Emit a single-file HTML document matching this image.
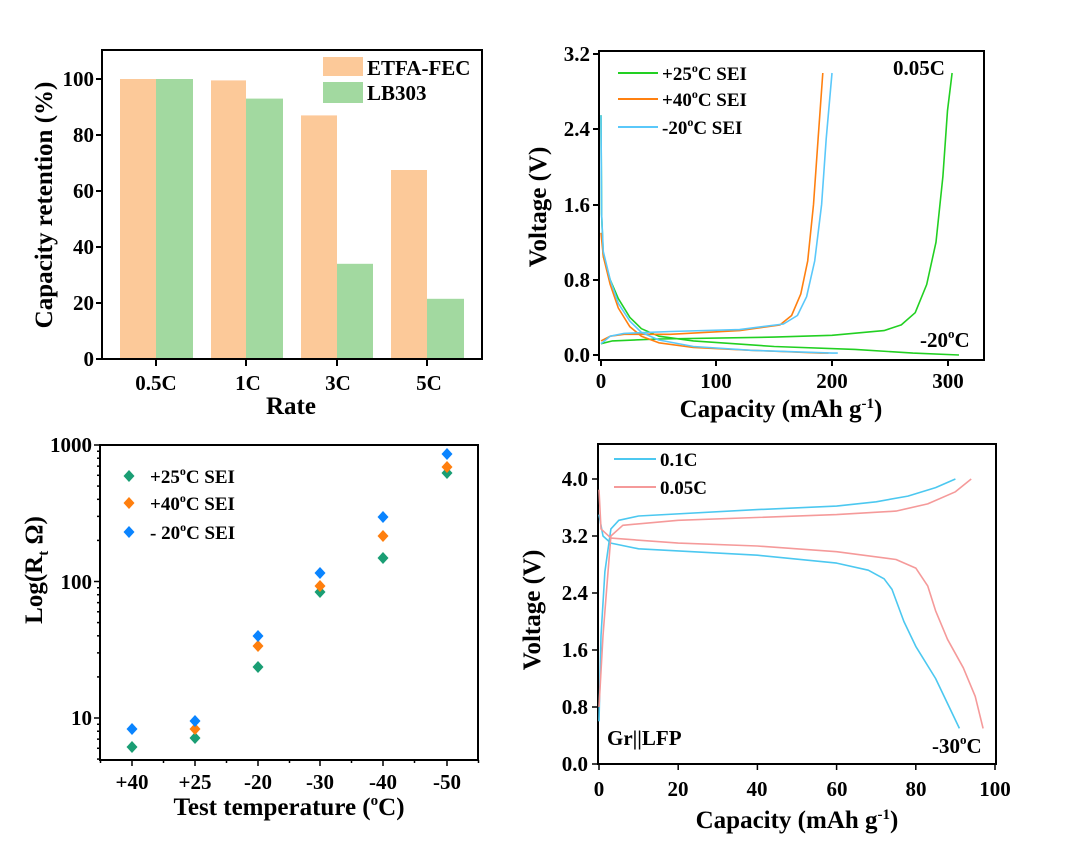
<!DOCTYPE html>
<html><head><meta charset="utf-8"><style>
body{margin:0;background:#fff;}
svg{display:block;font-family:"Liberation Serif",serif;font-weight:bold;}
</style></head><body>
<svg id="s" width="1080" height="841" viewBox="0 0 1080 841" xmlns="http://www.w3.org/2000/svg">
<rect width="1080" height="841" fill="#fff"/>
<!-- Panel A -->
<g>
<rect x="120" y="79" width="36" height="280" fill="#FCC999"/>
<rect x="156" y="79" width="37" height="280" fill="#A2D9A0"/>
<rect x="211" y="80.4" width="35" height="278.6" fill="#FCC999"/>
<rect x="246" y="98.6" width="37" height="260.4" fill="#A2D9A0"/>
<rect x="301" y="115.4" width="36" height="243.6" fill="#FCC999"/>
<rect x="337" y="263.8" width="36" height="95.2" fill="#A2D9A0"/>
<rect x="391" y="170" width="36" height="189" fill="#FCC999"/>
<rect x="427" y="298.8" width="37" height="60.2" fill="#A2D9A0"/>
<rect x="102" y="50" width="380" height="309" fill="none" stroke="#000" stroke-width="2"/>
<rect x="323" y="57" width="40" height="19" fill="#FCC999"/>
<rect x="323" y="82" width="40" height="21" fill="#A2D9A0"/>
<text x="367" y="75" font-size="21">ETFA-FEC</text>
<text x="367" y="100" font-size="21">LB303</text>
<g font-size="21" text-anchor="end">
<text x="94" y="366">0</text><text x="94" y="310">20</text><text x="94" y="254">40</text>
<text x="94" y="198">60</text><text x="94" y="142">80</text><text x="94" y="86">100</text>
</g>
<g stroke="#000" stroke-width="2">
<line x1="96" y1="359" x2="102" y2="359"/><line x1="96" y1="303" x2="102" y2="303"/><line x1="96" y1="247" x2="102" y2="247"/>
<line x1="96" y1="191" x2="102" y2="191"/><line x1="96" y1="135" x2="102" y2="135"/><line x1="96" y1="79" x2="102" y2="79"/>
<line x1="156" y1="359" x2="156" y2="366"/><line x1="246" y1="359" x2="246" y2="366"/><line x1="337" y1="359" x2="337" y2="366"/><line x1="427" y1="359" x2="427" y2="366"/>
</g>
<g font-size="21" text-anchor="middle">
<text x="156" y="390">0.5C</text><text x="248" y="390">1C</text><text x="338" y="390">3C</text><text x="429" y="390">5C</text>
</g>
<text x="291" y="414" font-size="25" text-anchor="middle">Rate</text>
<text transform="translate(52,205) rotate(-90)" font-size="25" text-anchor="middle">Capacity retention (%)</text>
</g>
<!-- Panel B -->
<g id="pB">
<rect x="599" y="51" width="385" height="309" fill="none" stroke="#000" stroke-width="2"/>
<g font-size="21" text-anchor="end">
<text x="590" y="362">0.0</text><text x="590" y="287">0.8</text><text x="590" y="212">1.6</text><text x="590" y="136">2.4</text><text x="590" y="61">3.2</text>
</g>
<g stroke="#000" stroke-width="2">
<line x1="593" y1="355" x2="599" y2="355"/><line x1="593" y1="280" x2="599" y2="280"/><line x1="593" y1="205" x2="599" y2="205"/><line x1="593" y1="129" x2="599" y2="129"/><line x1="593" y1="54" x2="599" y2="54"/>
<line x1="601" y1="360" x2="601" y2="366"/><line x1="716" y1="360" x2="716" y2="366"/><line x1="832" y1="360" x2="832" y2="366"/><line x1="948" y1="360" x2="948" y2="366"/>
</g>
<g font-size="21" text-anchor="middle">
<text x="601" y="388">0</text><text x="716" y="388">100</text><text x="832" y="388">200</text><text x="948" y="388">300</text>
</g>
<text x="781" y="417" font-size="25" text-anchor="middle">Capacity (mAh g<tspan font-size="15" dy="-9">-1</tspan><tspan dy="9">)</tspan></text>
<text transform="translate(546,207) rotate(-90)" font-size="25" text-anchor="middle">Voltage (V)</text>
<line x1="618" y1="73" x2="658" y2="73" stroke="#22d022" stroke-width="2"/>
<line x1="618" y1="99" x2="658" y2="99" stroke="#ff8010" stroke-width="2"/>
<line x1="618" y1="127" x2="658" y2="127" stroke="#5ac8fa" stroke-width="2"/>
<g font-size="19"><text x="662" y="80">+25<tspan font-size="12" dy="-8">o</tspan><tspan dy="8">C SEI</tspan></text>
<text x="662" y="106">+40<tspan font-size="12" dy="-8">o</tspan><tspan dy="8">C SEI</tspan></text>
<text x="662" y="134">-20<tspan font-size="12" dy="-8">o</tspan><tspan dy="8">C SEI</tspan></text></g>
<text x="893" y="75" font-size="21">0.05C</text>
<text x="920" y="347" font-size="21">-20<tspan font-size="13" dy="-9">o</tspan><tspan dy="9">C</tspan></text>
</g>
<!-- Panel C -->
<g id="pC">
<rect x="100" y="445" width="378" height="315" fill="none" stroke="#000" stroke-width="2"/>
<g font-size="21" text-anchor="end"><text x="92" y="452">1000</text><text x="92" y="589">100</text><text x="92" y="725">10</text></g>
<g font-size="21" text-anchor="middle">
<text x="132" y="789">+40</text><text x="195" y="789">+25</text><text x="258" y="789">-20</text><text x="320" y="789">-30</text><text x="383" y="789">-40</text><text x="447" y="789">-50</text></g>
<text x="289" y="815" font-size="25" text-anchor="middle">Test temperature (<tspan font-size="15" dy="-10">o</tspan><tspan dy="10">C)</tspan></text>
<text transform="translate(42,570) rotate(-90)" font-size="25" text-anchor="middle">Log(R<tspan font-size="15" dy="6">t</tspan><tspan dy="-6"> Ω)</tspan></text>
<g font-size="19"><text x="150" y="483">+25<tspan font-size="12" dy="-8">o</tspan><tspan dy="8">C SEI</tspan></text>
<text x="150" y="510">+40<tspan font-size="12" dy="-8">o</tspan><tspan dy="8">C SEI</tspan></text>
<text x="150" y="539">- 20<tspan font-size="12" dy="-8">o</tspan><tspan dy="8">C SEI</tspan></text></g>
</g>
<!-- Panel D -->
<g id="pD">
<rect x="598" y="444" width="398" height="320" fill="none" stroke="#000" stroke-width="2"/>
<g font-size="21" text-anchor="end">
<text x="588" y="771">0.0</text><text x="588" y="714">0.8</text><text x="588" y="657">1.6</text><text x="588" y="600">2.4</text><text x="588" y="543">3.2</text><text x="588" y="486">4.0</text></g>
<g font-size="21" text-anchor="middle">
<text x="599" y="796">0</text><text x="678" y="796">20</text><text x="757" y="796">40</text><text x="837" y="796">60</text><text x="916" y="796">80</text><text x="995" y="796">100</text></g>
<text x="797" y="828" font-size="25" text-anchor="middle">Capacity (mAh g<tspan font-size="15" dy="-9">-1</tspan><tspan dy="9">)</tspan></text>
<text transform="translate(540,610) rotate(-90)" font-size="25" text-anchor="middle">Voltage (V)</text>
<line x1="614" y1="459" x2="656" y2="459" stroke="#4cc8f0" stroke-width="2"/>
<line x1="614" y1="487" x2="656" y2="487" stroke="#f59a9a" stroke-width="2"/>
<text x="660" y="466" font-size="19">0.1C</text><text x="660" y="494" font-size="19">0.05C</text>
<text x="607" y="745" font-size="21">Gr||LFP</text>
<text x="932" y="753" font-size="21">-30<tspan font-size="13" dy="-9">o</tspan><tspan dy="9">C</tspan></text>
</g>
</svg>
<script>
var s=document.getElementById('s'),NS='http://www.w3.org/2000/svg';
function line(pts,fx,fy,col,w){var d='';pts.forEach(function(p,i){d+=(i?'L':'M')+fx(p[0]).toFixed(1)+','+fy(p[1]).toFixed(1);});
var e=document.createElementNS(NS,'path');e.setAttribute('d',d);e.setAttribute('fill','none');e.setAttribute('stroke',col);e.setAttribute('stroke-width',w||1.6);e.setAttribute('stroke-linejoin','round');s.appendChild(e);}
var bx=function(v){return 601+v*1.155},by=function(v){return 355-v*94};
var G='#22d022',O='#ff8010',B='#5ac8fa';
line([[0,2.55],[0.5,1.5],[2,1.05],[8,0.8],[15,0.6],[25,0.4],[35,0.28],[50,0.2],[80,0.15],[150,0.09],[220,0.06],[270,0.02],[310,0.0]],bx,by,G);
line([[0,0.12],[10,0.15],[50,0.17],[150,0.19],[200,0.21],[245,0.26],[260,0.32],[272,0.45],[282,0.75],[290,1.2],[296,1.9],[300,2.6],[304,3.0]],bx,by,G);
line([[0,1.3],[2,1.05],[8,0.75],[15,0.5],[25,0.3],[35,0.2],[50,0.13],[80,0.08],[130,0.05],[190,0.02],[197,0.02]],bx,by,O);
line([[0,0.15],[8,0.2],[20,0.22],[60,0.22],[120,0.26],[155,0.32],[165,0.42],[173,0.65],[179,1.0],[184,1.6],[188,2.3],[192,3.0]],bx,by,O);
line([[0,2.55],[0.5,1.5],[2,1.1],[8,0.8],[15,0.55],[25,0.36],[35,0.24],[50,0.16],[80,0.09],[130,0.05],[200,0.02],[205,0.02]],bx,by,B);
line([[0,0.12],[8,0.2],[20,0.23],[60,0.25],[120,0.27],[158,0.33],[170,0.42],[178,0.62],[185,1.0],[191,1.6],[195,2.3],[200,3.0]],bx,by,B);
var dx=function(v){return 599+v*3.96},dy=function(v){return 764-v*71.25};
var C1='#4cc8f0',C2='#f59a9a';
line([[0,0.6],[0.5,1.8],[1.5,2.7],[3,3.3],[5,3.42],[10,3.48],[40,3.57],[60,3.62],[70,3.68],[78,3.76],[85,3.88],[90,4.0]],dx,dy,C1);
line([[0,3.5],[1,3.2],[3,3.1],[10,3.02],[40,2.93],[60,2.82],[68,2.72],[72,2.6],[74,2.45],[77,2.0],[80,1.65],[85,1.2],[91,0.5]],dx,dy,C1);
line([[0,0.8],[1,1.8],[2,2.5],[3,3.2],[6,3.35],[20,3.42],[60,3.5],[75,3.55],[83,3.65],[90,3.82],[94,4.0]],dx,dy,C2);
line([[0,3.85],[0.5,3.3],[3,3.17],[20,3.1],[40,3.06],[60,2.98],[75,2.87],[80,2.75],[83,2.5],[85,2.15],[88,1.75],[92,1.35],[95,0.95],[97,0.5]],dx,dy,C2);
function dia(x,y,c){var e=document.createElementNS(NS,'path');e.setAttribute('d','M'+x+','+(y-6)+'L'+(x+5.5)+','+y+'L'+x+','+(y+6)+'L'+(x-5.5)+','+y+'Z');e.setAttribute('fill',c);s.appendChild(e);}
var gc='#1a9e74',oc='#ff7f0e',bc='#0a84ff';
var X=[132,195,258,320,383,447];
[747,738,667,592,558,473].forEach(function(y,i){dia(X[i],y,gc)});
[null,729,646,586,536,467].forEach(function(y,i){if(y)dia(X[i],y,oc)});
[729,721,636,573,517,454].forEach(function(y,i){dia(X[i],y,bc)});
dia(129,476,gc);dia(129,503,oc);dia(129,532,bc);
function tk(x1,y1,x2,y2){var e=document.createElementNS(NS,'line');e.setAttribute('x1',x1);e.setAttribute('y1',y1);e.setAttribute('x2',x2);e.setAttribute('y2',y2);e.setAttribute('stroke','#000');e.setAttribute('stroke-width',1.5);s.appendChild(e);}
[1000,100,10].forEach(function(v){var y=445+(3-Math.log10(v))*136.5;tk(94,y,100,y);});
for(var dd=0;dd<3;dd++)for(var m=2;m<=9;m++){var v=Math.pow(10,dd)*m;var y=445+(3-Math.log10(v))*136.5;if(y<760&&y>445)tk(97,y,100,y);}
X.forEach(function(x){tk(x,760,x,766)});
for(var i=0;i<6;i++){tk(X[i]+31.5,760,X[i]+31.5,763);}
tk(100.5,760,100.5,763);
[0,0.8,1.6,2.4,3.2,4.0].forEach(function(v){tk(592,dy(v),598,dy(v))});
[0,20,40,60,80,100].forEach(function(v){tk(dx(v),764,dx(v),770)});
</script>
</body></html>
